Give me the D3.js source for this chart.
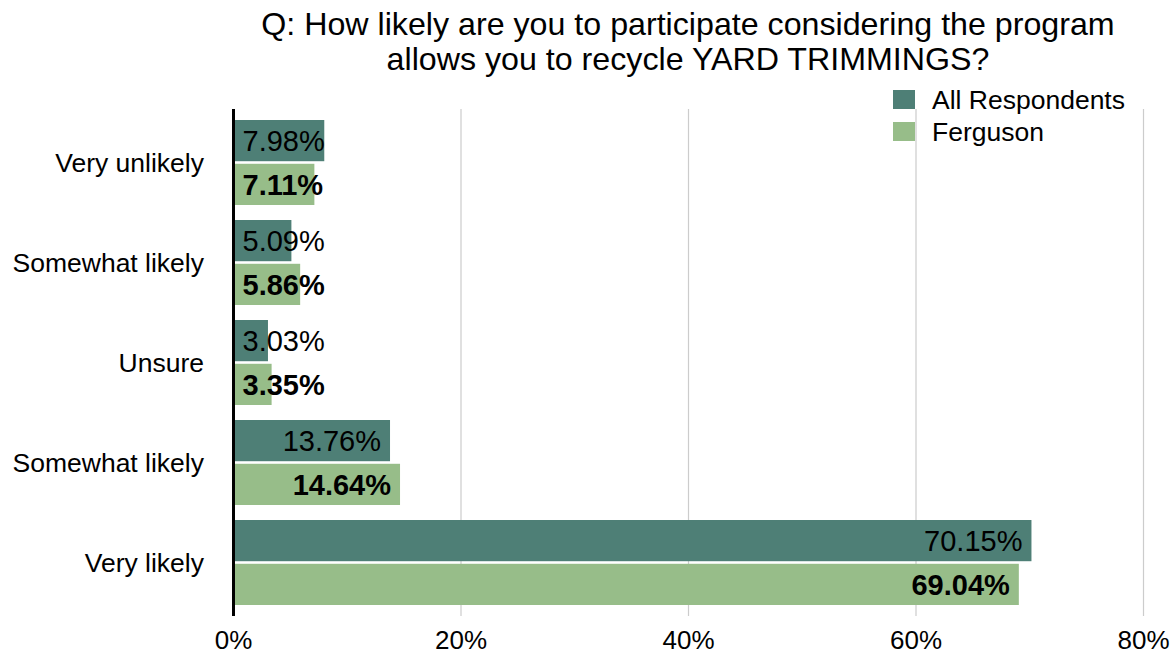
<!DOCTYPE html>
<html><head><meta charset="utf-8">
<script src="https://cdn.jsdelivr.net/npm/d3@7"></script>
<style>body{margin:0;background:#fff}svg{display:block}text{font-family:"Liberation Sans",Arial,Helvetica,sans-serif}</style>
</head><body>
<svg id="c" width="1173" height="656"></svg>
<script>
const categories = ["Very unlikely","Somewhat likely","Unsure","Somewhat likely ","Very likely"];
const seriesNames = ["All Respondents","Ferguson"];
const allRespondents = [7.98, 5.09, 3.03, 13.76, 70.15];
const ferguson = [7.11, 5.86, 3.35, 14.64, 69.04];
const xTicks = [0, 20, 40, 60, 80];
const titleLines = ["Q: How likely are you to participate considering the program","allows you to recycle YARD TRIMMINGS?"];
const colors = ["#4e7f76", "#97bd89"];

const svg = d3.select("#c");
const x = d3.scaleLinear().domain([0, 80]).range([233.5, 1143.5]);
const y = d3.scaleBand().domain(categories).range([112.5, 612.5]).paddingInner(0.15).paddingOuter(0.075);
const y1 = d3.scaleBand().domain(seriesNames).range([0, y.bandwidth()]).paddingInner(5/85);

// grid
svg.append("g").selectAll("line").data(xTicks.slice(1)).join("line")
  .attr("x1", d => x(d)).attr("x2", d => x(d)).attr("y1", 109).attr("y2", 616)
  .attr("stroke", "#cccccc").attr("stroke-width", 1.2);

// title
svg.append("g").selectAll("text").data(titleLines).join("text")
  .attr("x", 688).attr("y", (d,i) => 35 + i*35).attr("text-anchor", "middle")
  .attr("font-size", 32.2).attr("fill", "#000").text(d => d);

const data = categories.map((c,i) => ({c, vals:[allRespondents[i], ferguson[i]]}));
const g = svg.append("g").selectAll("g").data(data).join("g")
  .attr("transform", d => `translate(0,${y(d.c)})`);
g.selectAll("rect").data(d => d.vals.map((v,j) => ({v, s: seriesNames[j], j}))).join("rect")
  .attr("x", x(0)).attr("y", d => y1(d.s)).attr("width", d => x(d.v) - x(0))
  .attr("height", y1.bandwidth()).attr("fill", d => colors[d.j]);
g.selectAll("text").data(d => d.vals.map((v,j) => ({v, s: seriesNames[j], j}))).join("text")
  .attr("y", d => y1(d.s) + y1.bandwidth()/2).attr("dy", "0.36em")
  .attr("font-size", 29).attr("font-weight", d => d.j === 1 ? "bold" : "normal")
  .attr("fill", "#000").text(d => d.v.toFixed(2) + "%")
  .each(function(d){
    const w = this.getComputedTextLength();
    const end = Math.max(x(d.v) - 9, x(0) + 9 + w);
    d3.select(this).attr("x", end).attr("text-anchor", "end");
  });

// y axis labels
svg.append("g").selectAll("text").data(categories).join("text")
  .attr("x", 204).attr("y", d => y(d) + y.bandwidth()/2).attr("dy", "0.36em")
  .attr("text-anchor", "end").attr("font-size", 26.5).text(d => d.trim());

// axis line
svg.append("line").attr("x1", x(0)).attr("x2", x(0)).attr("y1", 109).attr("y2", 616)
  .attr("stroke", "#000").attr("stroke-width", 3);

// x tick labels
svg.append("g").selectAll("text").data(xTicks).join("text")
  .attr("x", d => x(d)).attr("y", 649).attr("text-anchor", "middle")
  .attr("font-size", 26).text(d => d + "%");

// legend
const lg = svg.append("g").selectAll("g").data(seriesNames).join("g")
  .attr("transform", (d,i) => `translate(893,${90 + i*32})`);
lg.append("rect").attr("width", 22).attr("height", 19).attr("fill", (d,i) => colors[i]);
lg.append("text").attr("x", 39).attr("y", 9.5).attr("dy", "0.36em").attr("font-size", 26.5).text(d => d);
</script>
</body></html>
